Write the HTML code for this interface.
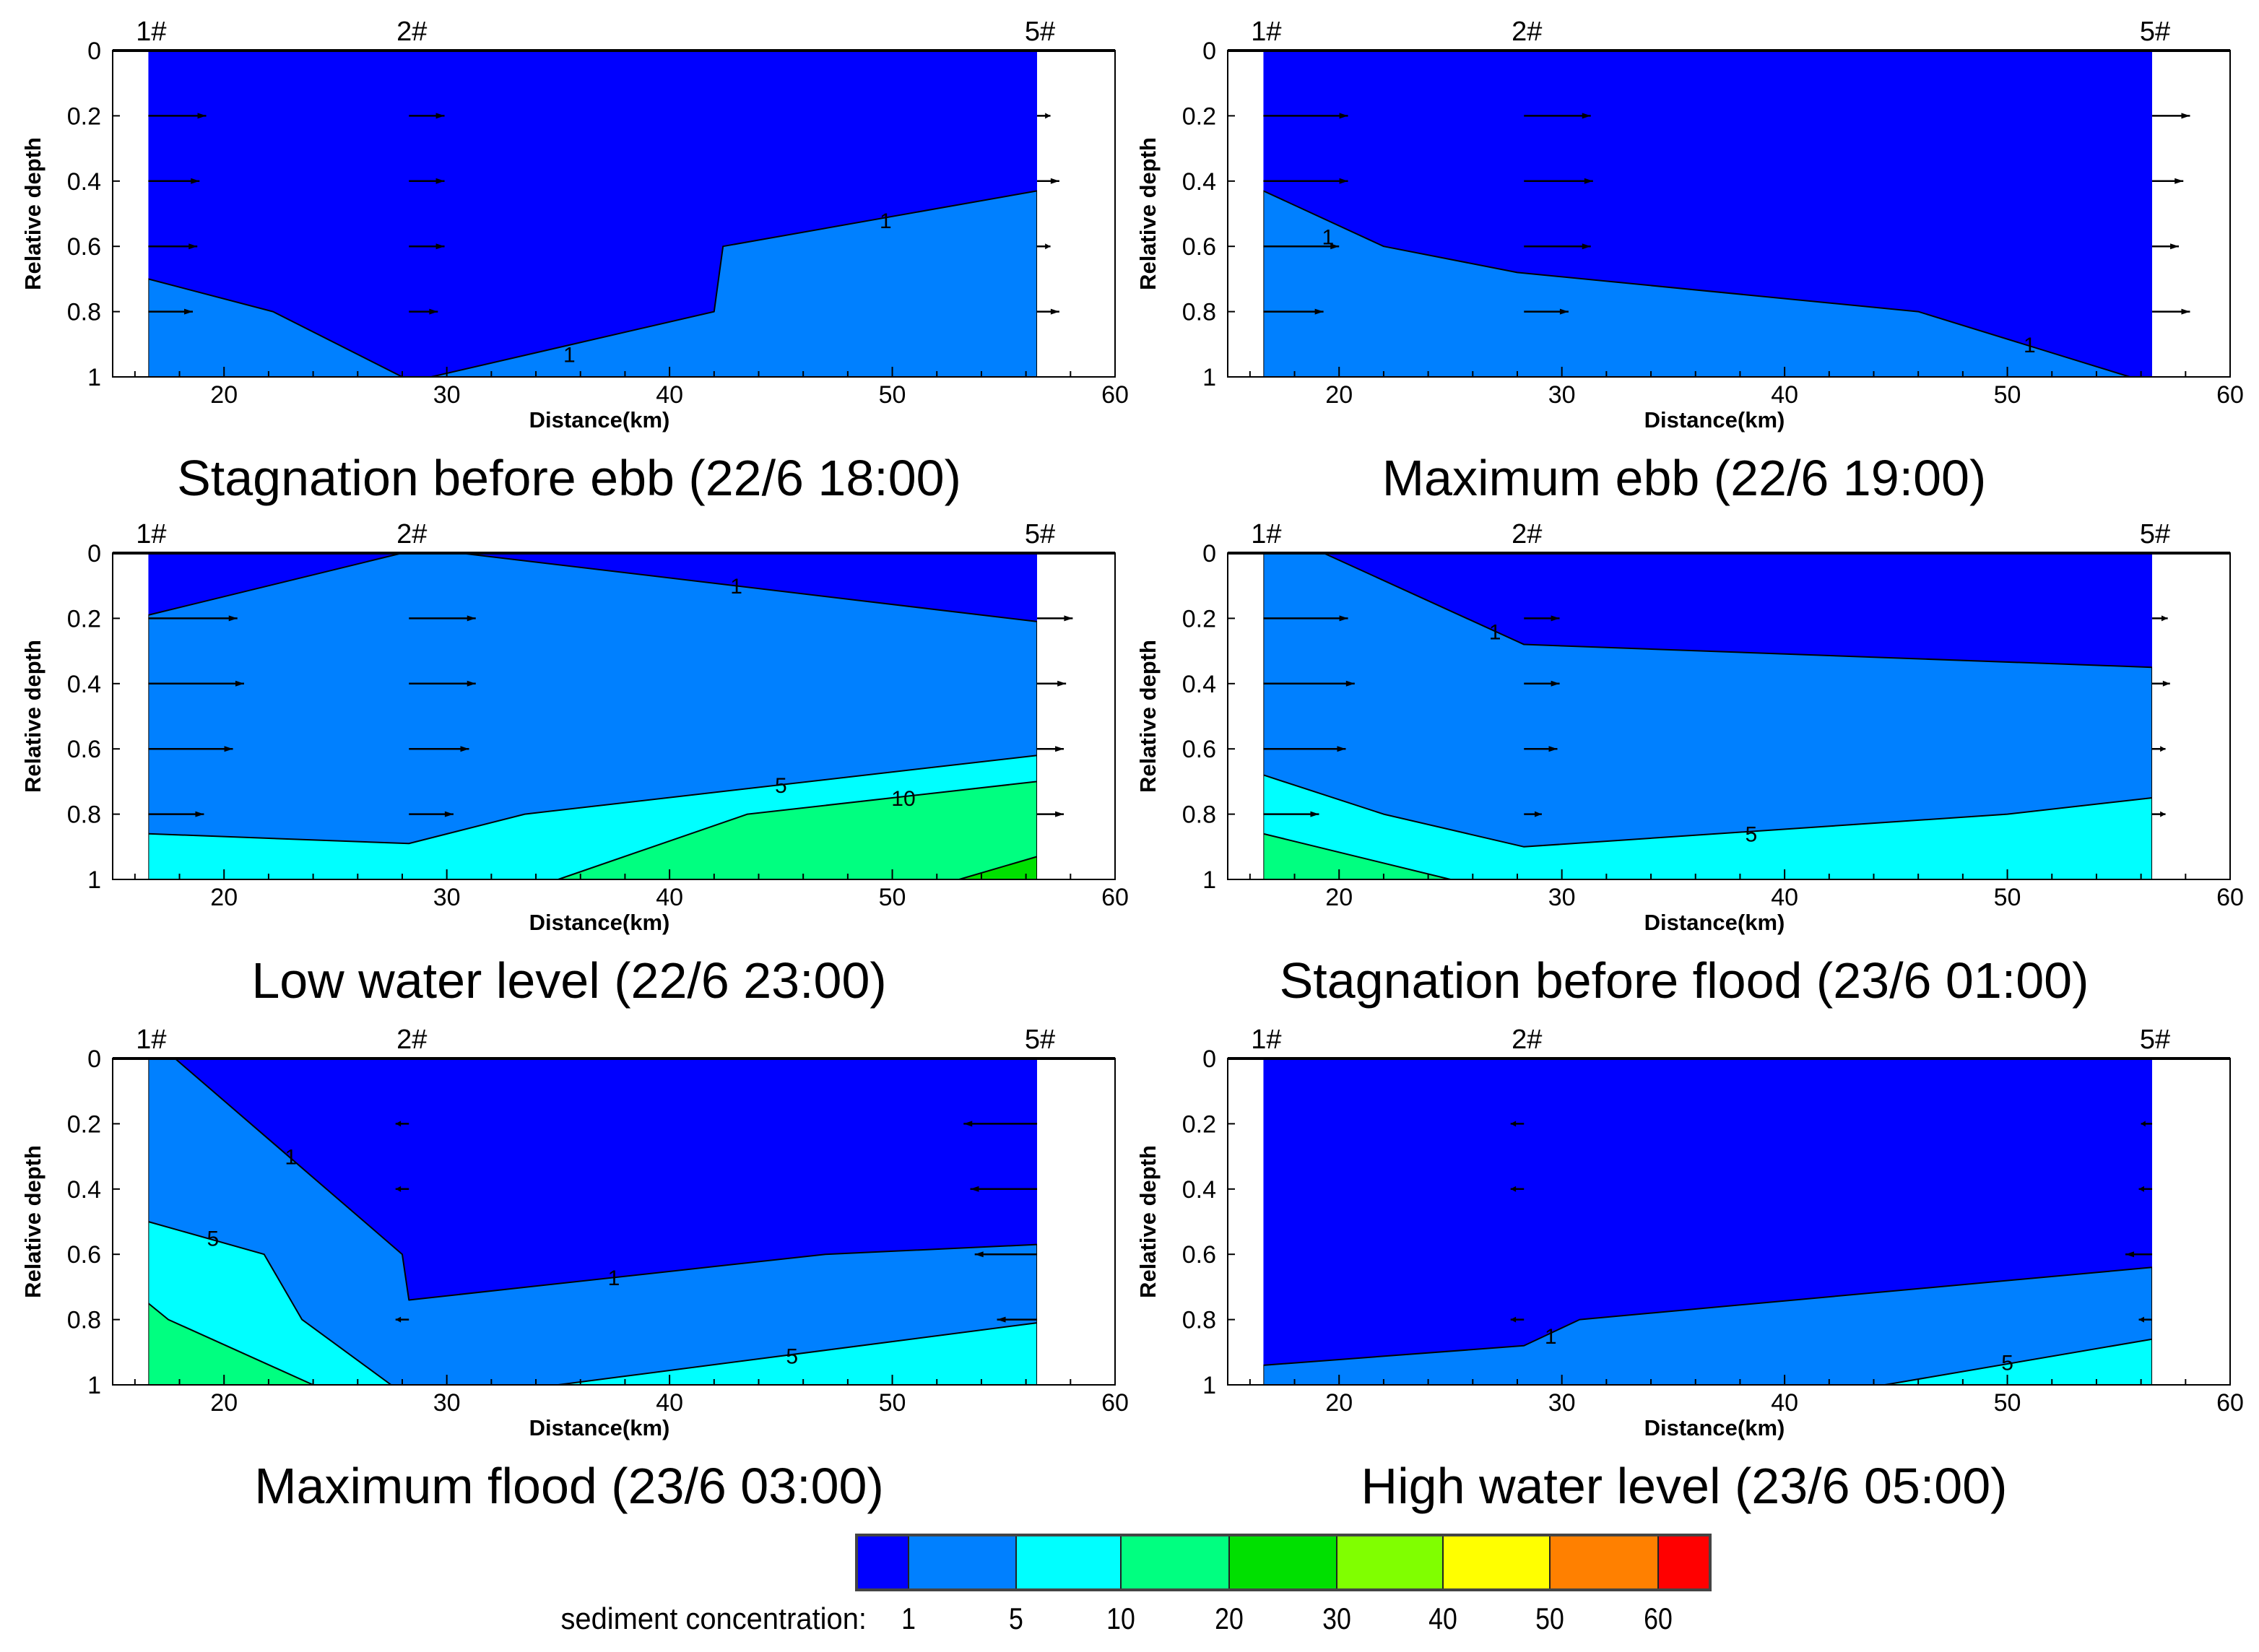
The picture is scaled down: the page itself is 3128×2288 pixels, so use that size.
<!DOCTYPE html>
<html><head><meta charset="utf-8">
<style>
html,body{margin:0;padding:0;background:#fff;}
svg{display:block;font-family:"Liberation Sans",sans-serif;}
</style></head>
<body>
<svg id="chart" width="3128" height="2288" viewBox="0 0 3128 2288" xmlns="http://www.w3.org/2000/svg"></svg>
<script>
const NS="http://www.w3.org/2000/svg";
const colors=["#0000ff","#0080ff","#00ffff","#00ff80","#00e000","#80ff00","#ffff00","#ff8000","#ff0000"];
const legendLabels=["1","5","10","20","30","40","50","60"];
const xTicks=[20,30,40,50,60];
const yTicks=[0,0.2,0.4,0.6,0.8,1];
const yTickLabels=["0","0.2","0.4","0.6","0.8","1"];
const stations=[16.6,28.3,56.5];
const stationLabels=["1#","2#","5#"];
const arrowDepths=[0.2,0.4,0.6,0.8];
const titles=["Stagnation before ebb (22/6 18:00)","Maximum ebb (22/6 19:00)","Low water level (22/6 23:00)","Stagnation before flood (23/6 01:00)","Maximum flood (23/6 03:00)","High water level (23/6 05:00)"];
const regions=[
 [[1,[[16.6,0.7],[22.2,0.8],[28,1],[16.6,1]]],[1,[[29.3,1],[42,0.8],[42.4,0.6],[56.5,0.43],[56.5,1]]]],
 [[1,[[16.6,0.43],[22,0.6],[28,0.68],[46,0.8],[55.5,1],[16.6,1]]]],
 [[1,[[16.6,0.19],[28,0],[30.6,0],[56.5,0.21],[56.5,1],[16.6,1]]],[2,[[16.6,0.86],[28.3,0.89],[33.5,0.8],[56.5,0.62],[56.5,1],[16.6,1]]],[3,[[35,1],[43.5,0.8],[56.5,0.7],[56.5,1]]],[4,[[53,1],[56.5,0.93],[56.5,1]]]],
 [[1,[[16.6,0],[19.3,0],[28.3,0.28],[56.5,0.35],[56.5,1],[16.6,1]]],[2,[[16.6,0.68],[22,0.8],[28.3,0.9],[50,0.8],[56.5,0.75],[56.5,1],[16.6,1]]],[3,[[16.6,0.86],[25,1],[16.6,1]]]],
 [[1,[[16.6,0],[17.8,0],[28,0.6],[28.3,0.74],[47,0.6],[56.5,0.57],[56.5,1],[16.6,1]]],[2,[[16.6,0.5],[21.8,0.6],[23.5,0.8],[27.5,1],[16.6,1]]],[2,[[35,1],[56.5,0.81],[56.5,1]]],[3,[[16.6,0.75],[17.5,0.8],[24,1],[16.6,1]]]],
 [[1,[[16.6,0.94],[28.3,0.88],[30.8,0.8],[56.5,0.64],[56.5,1],[16.6,1]]],[2,[[44.5,1],[56.5,0.86],[56.5,1]]]]
];
const contourLabels=[
 [[35.5,0.93,"1"],[49.7,0.52,"1"]],
 [[19.5,0.57,"1"],[51,0.9,"1"]],
 [[43,0.1,"1"],[45,0.71,"5"],[50.5,0.75,"10"]],
 [[27,0.24,"1"],[38.5,0.86,"5"]],
 [[23,0.3,"1"],[19.5,0.55,"5"],[37.5,0.67,"1"],[45.5,0.91,"5"]],
 [[29.5,0.85,"1"],[50,0.93,"5"]]
];
const velocities=[
 [[2.6,2.3,2.2,2.0],[1.6,1.6,1.6,1.3],[0.6,1.0,0.6,1.0]],
 [[3.8,3.8,3.4,2.7],[3.0,3.1,3.0,2.0],[1.7,1.4,1.2,1.7]],
 [[4.0,4.3,3.8,2.5],[3.0,3.0,2.7,2.0],[1.6,1.3,1.2,1.2]],
 [[3.8,4.1,3.7,2.5],[1.6,1.6,1.5,0.8],[0.7,0.8,0.6,0.6]],
 [[0,0,0,0],[-0.6,-0.6,0,-0.6],[-3.3,-3.0,-2.8,-1.8]],
 [[0,0,0,0],[-0.6,-0.6,0,-0.6],[-0.5,-0.6,-1.2,-0.6]]
];
const panelX=[156,1700];
const panelTop=[70,766,1466];
const W=1388,H=452;
const svg=document.getElementById('chart');
function mk(tag,attrs,parent){const e=document.createElementNS(NS,tag);for(const k in attrs)e.setAttribute(k,attrs[k]);(parent||svg).appendChild(e);return e;}

for(let p=0;p<6;p++){
  const ox=panelX[p%2],oy=panelTop[Math.floor(p/2)];
  const sx=v=>ox+(v-15)/45*W, sy=v=>oy+v*H;
  const g=mk('g',{});
  
  
  const bg=mk('rect',{x:sx(16.6),y:sy(0),width:sx(56.5)-sx(16.6),height:H,fill:colors[0]},g);
  
  
  regions[p].forEach(r=>{
    const pts=r[1].map(q=>sx(q[0])+','+sy(q[1])).join(' ');
    const pg=mk('polygon',{points:pts,fill:colors[r[0]],stroke:'#000','stroke-width':2,'stroke-linejoin':'round'},g);
    
    
  });
  mk('rect',{x:ox,y:oy,width:sx(16.6)-ox,height:H+2,fill:'#fff'},g);
  mk('rect',{x:sx(56.5),y:oy,width:ox+W-sx(56.5),height:H+2,fill:'#fff'},g);
  contourLabels[p].forEach(c=>{
    const t=mk('text',{x:sx(c[0]),y:sy(c[1])+11,'font-size':30,'text-anchor':'middle',fill:'#000'},g);
    t.textContent=c[2];
    
    
  });
  for(let s=0;s<3;s++)for(let d=0;d<4;d++){
    const v=velocities[p][s][d]; if(v===0)continue;
    const x0=sx(stations[s]),y0=sy(arrowDepths[d]),x1=sx(stations[s]+v);
    const a=mk('g',{},g);
    
    
    mk('line',{x1:x0,y1:y0,x2:x1,y2:y0,stroke:'#000','stroke-width':2.5},a);
    const dir=Math.sign(v),h=Math.min(12,Math.abs(x1-x0)*0.4);
    mk('polygon',{points:`${x1},${y0} ${x1-dir*h},${y0-4} ${x1-dir*h},${y0+4}`,fill:'#000'},a);
  }
  const fr=mk('rect',{x:ox,y:oy,width:W,height:H,fill:'none',stroke:'#000','stroke-width':2},g);
  
  
  mk('line',{x1:ox,y1:oy,x2:ox+W,y2:oy,stroke:'#000','stroke-width':4},g);
  for(let k=16;k<=60;k+=2){
    const len=(k%10===0)?14:8;
    mk('line',{x1:sx(k),y1:oy+H,x2:sx(k),y2:oy+H-len,stroke:'#000','stroke-width':2},g);
  }
  xTicks.forEach(t=>{
    const tx=mk('text',{x:sx(t),y:oy+H+36,'font-size':34,'text-anchor':'middle'},g);
    tx.textContent=t;
    
    
  });
  yTicks.forEach((t,i)=>{
    mk('line',{x1:ox,y1:sy(t),x2:ox+10,y2:sy(t),stroke:'#000','stroke-width':2},g);
    const ty=mk('text',{x:ox-16,y:sy(t)+12,'font-size':34,'text-anchor':'end'},g);
    ty.textContent=yTickLabels[i];
    
    
  });
  stations.forEach((s,i)=>{
    const st=mk('text',{x:sx(s)+4,y:oy-14,'font-size':38,'text-anchor':'middle'},g);
    st.textContent=stationLabels[i];
    
    
  });
  const xt=mk('text',{x:ox+W/2-20,y:oy+H+70,'font-size':31,'font-weight':'bold','text-anchor':'middle'},g);
  xt.textContent='Distance(km)';
  
  
  const yt=mk('text',{x:0,y:0,'font-size':31,'font-weight':'bold','text-anchor':'middle',transform:`translate(${ox-100},${oy+H/2}) rotate(-90)`},g);
  yt.textContent='Relative depth';
  
  
  const tt=mk('text',{x:ox+W/2-62,y:oy+616,'font-size':70,'text-anchor':'middle'},g);
  tt.textContent=titles[p];
  
  
}
const lg=mk('g',{});


const lx0=1186,lx1=2368,ly=2126,lh=76;
const bounds=[1258,1407,1552,1702,1851,1998,2146,2296];
const edges=[lx0].concat(bounds,[lx1]);
for(let i=0;i<9;i++){
  const r=mk('rect',{x:edges[i],y:ly,width:edges[i+1]-edges[i],height:lh,fill:colors[i],stroke:'#222','stroke-width':2},lg);
  
  
}
mk('rect',{x:lx0,y:ly,width:lx1-lx0,height:lh,fill:'none',stroke:'#444','stroke-width':4},lg);
legendLabels.forEach((l,i)=>{
  const t=mk('text',{x:bounds[i],y:2256,'font-size':42,'text-anchor':'middle',transform:`translate(${bounds[i]},2256) scale(0.85,1) translate(${-bounds[i]},-2256)`},lg);
  t.textContent=l;
  
  
});
const lt=mk('text',{x:1200,y:2256,'font-size':42,'text-anchor':'end',transform:'translate(1200,2256) scale(0.95,1) translate(-1200,-2256)'},lg);
lt.textContent='sediment concentration:';


</script>
</body></html>
